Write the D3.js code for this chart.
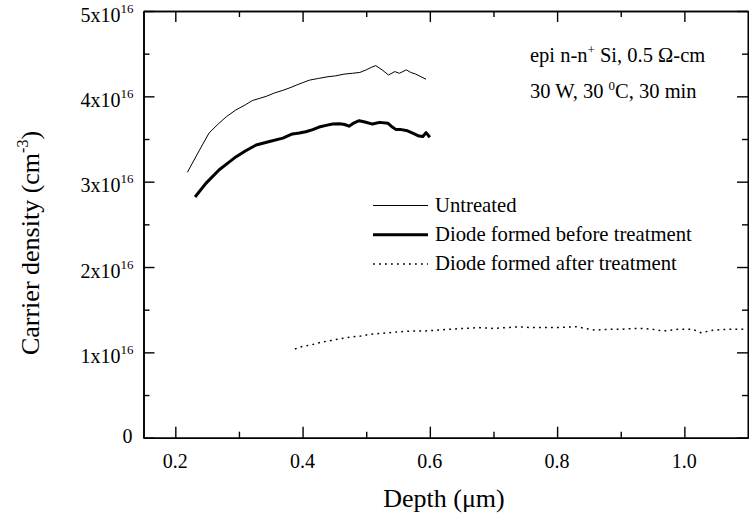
<!DOCTYPE html>
<html><head><meta charset="utf-8">
<script src="https://cdn.jsdelivr.net/npm/d3@7"></script>
<style>
body{margin:0;background:#fff;}
text{font-family:"Liberation Serif","Times New Roman",serif;fill:#000;}
</style></head>
<body><svg id="c" width="749" height="522"></svg>
<script>
// ---- data ----
const untreatedX = [0.219,0.238,0.253,0.268,0.280,0.295,0.310,0.321,0.334,0.343,0.356,0.369,0.380,0.390,0.400,0.411,0.425,0.440,0.452,0.465,0.478,0.490,0.500,0.508,0.515,0.525,0.535,0.545,0.552,0.563,0.570,0.578,0.586,0.594];
const untreatedY = [3.11,3.37,3.57,3.68,3.76,3.84,3.90,3.95,3.98,4.00,4.04,4.07,4.10,4.13,4.16,4.19,4.21,4.23,4.24,4.26,4.27,4.28,4.31,4.34,4.36,4.31,4.25,4.29,4.27,4.31,4.28,4.26,4.23,4.20];
const beforeX = [0.231,0.248,0.269,0.283,0.295,0.310,0.327,0.348,0.369,0.384,0.395,0.405,0.416,0.426,0.437,0.447,0.458,0.466,0.473,0.481,0.489,0.498,0.510,0.521,0.534,0.541,0.547,0.555,0.563,0.573,0.583,0.589,0.594,0.600];
const beforeY = [2.82,2.98,3.14,3.22,3.29,3.36,3.43,3.47,3.51,3.56,3.57,3.585,3.61,3.64,3.66,3.675,3.68,3.67,3.65,3.69,3.715,3.70,3.675,3.695,3.685,3.64,3.61,3.61,3.60,3.57,3.535,3.53,3.575,3.52];
const afterX = [0.388,0.400,0.415,0.430,0.445,0.460,0.475,0.490,0.505,0.520,0.535,0.550,0.570,0.590,0.610,0.630,0.651,0.678,0.700,0.720,0.740,0.760,0.780,0.800,0.830,0.845,0.861,0.880,0.900,0.920,0.934,0.950,0.966,0.990,1.013,1.026,1.045,1.070,1.097];
const afterY = [1.04,1.07,1.09,1.12,1.14,1.16,1.18,1.19,1.21,1.22,1.23,1.24,1.25,1.25,1.26,1.27,1.28,1.29,1.28,1.29,1.30,1.29,1.29,1.29,1.30,1.28,1.26,1.27,1.27,1.28,1.28,1.27,1.25,1.27,1.27,1.23,1.26,1.27,1.27];
const xMajorTicks = [0.2,0.4,0.6,0.8,1.0];
const xTickLabels = ["0.2","0.4","0.6","0.8","1.0"];
const xMinorTicks = [0.3,0.5,0.7,0.9];
const yMajorTicks = [0,1,2,3,4,5];
const yTickMantissa = ["0","1","2","3","4","5"];
const yMinorTicks = [0.5,1.5,2.5,3.5,4.5];
const legendLabels = ["Untreated","Diode formed before treatment","Diode formed after treatment"];

// ---- layout ----
const svg = d3.select("#c");
const L=143.5, R=748, T=11, B=437.7;
const x = d3.scaleLinear().domain([0.15,1.1]).range([L,R]);
const y = d3.scaleLinear().domain([0,5]).range([B,T]);

const series = [
  {xs:untreatedX, ys:untreatedY, w:1, dash:null},
  {xs:beforeX, ys:beforeY, w:3, dash:null},
  {xs:afterX, ys:afterY, w:1.5, dash:"1.8,4.2"}
];
const line = d3.line().x(d=>x(d[0])).y(d=>y(d[1]));
series.forEach(s=>{
  svg.append("path").datum(d3.zip(s.xs,s.ys)).attr("d",line)
    .attr("fill","none").attr("stroke","#000").attr("stroke-width",s.w)
    .attr("stroke-linejoin","round").attr("stroke-dasharray",s.dash);
});

// axes (inward ticks)
function ax(gen, tr){ const g=svg.append("g").attr("transform",tr).call(gen);
  g.selectAll("text").remove(); g.select(".domain").attr("stroke-width",1.6);
  g.selectAll(".tick line").attr("stroke-width",1.4); return g; }
ax(d3.axisBottom(x).tickValues(xMajorTicks).tickSize(-11).tickSizeOuter(0),`translate(0,${B})`);
ax(d3.axisBottom(x).tickValues(xMinorTicks).tickSize(-6).tickSizeOuter(0),`translate(0,${B})`);
ax(d3.axisTop(x).tickValues(xMajorTicks).tickSize(-11).tickSizeOuter(0),`translate(0,${T})`);
ax(d3.axisTop(x).tickValues(xMinorTicks).tickSize(-6).tickSizeOuter(0),`translate(0,${T})`);
ax(d3.axisLeft(y).tickValues(yMajorTicks).tickSize(-11).tickSizeOuter(0),`translate(${L},0)`);
ax(d3.axisLeft(y).tickValues(yMinorTicks).tickSize(-6).tickSizeOuter(0),`translate(${L},0)`);
ax(d3.axisRight(y).tickValues(yMajorTicks).tickSize(-11).tickSizeOuter(0),`translate(${R},0)`);
ax(d3.axisRight(y).tickValues(yMinorTicks).tickSize(-6).tickSizeOuter(0),`translate(${R},0)`);

// x tick labels
xMajorTicks.forEach((v,i)=>{
  svg.append("text").attr("x",x(v)).attr("y",B+30).attr("text-anchor","middle")
    .attr("font-size",20).text(xTickLabels[i]);
});
// y tick labels
yMajorTicks.forEach((v,i)=>{
  const t=svg.append("text").attr("text-anchor","end").attr("font-size",20);
  if(v===0){ t.attr("x",L-11).attr("y",y(v)+5).text(yTickMantissa[i]); }
  else{
    t.attr("x",L-10).attr("y",y(v)+10.5);
    t.append("tspan").text(yTickMantissa[i]+"x10");
    t.append("tspan").attr("font-size",13).attr("dy",-9).text("16");
  }
});

// axis titles
svg.append("text").attr("x",444).attr("y",506.5).attr("text-anchor","middle")
  .attr("font-size",26).text("Depth (μm)");
const yt=svg.append("text").attr("transform","translate(39,243) rotate(-90)")
  .attr("text-anchor","middle").attr("font-size",26);
yt.append("tspan").text("Carrier density (cm");
yt.append("tspan").attr("font-size",16).attr("dy",-11).text("-3");
yt.append("tspan").attr("dy",11).text(")");

// annotation
const a1=svg.append("text").attr("x",530).attr("y",62).attr("font-size",20.5);
a1.append("tspan").text("epi n-n");
a1.append("tspan").attr("font-size",13).attr("dy",-8).text("+");
a1.append("tspan").attr("dy",8).text(" Si, 0.5 Ω-cm");
const a2=svg.append("text").attr("x",530).attr("y",98).attr("font-size",20.5);
a2.append("tspan").text("30 W, 30 ");
a2.append("tspan").attr("font-size",13).attr("dy",-8).text("0");
a2.append("tspan").attr("dy",8).text("C, 30 min");

// legend
legendLabels.forEach((lab,i)=>{
  const yy=211.5+i*29.2, s=series[i];
  svg.append("line").attr("x1",373).attr("x2",428).attr("y1",yy-6).attr("y2",yy-6)
    .attr("stroke","#000").attr("stroke-width",s.w).attr("stroke-dasharray",s.dash);
  svg.append("text").attr("x",435).attr("y",yy).attr("font-size",20.7).text(lab);
});
</script></body></html>
